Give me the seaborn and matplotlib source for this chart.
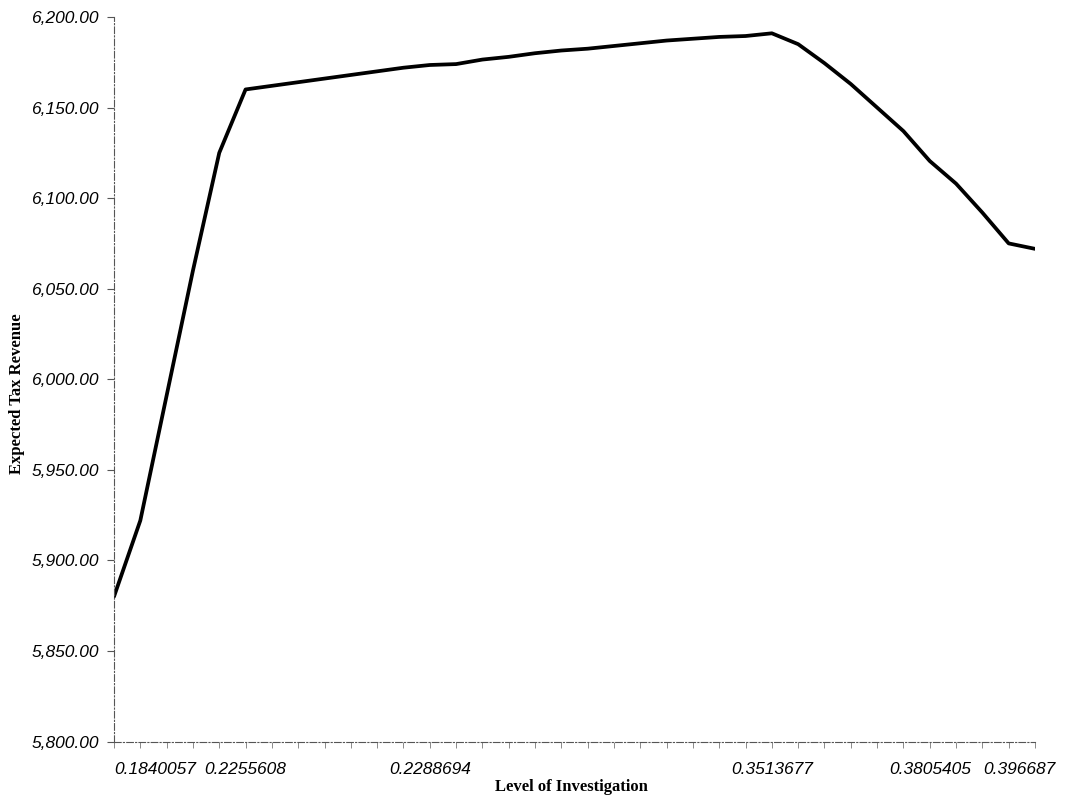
import numpy as np
import pandas as pd
import matplotlib
matplotlib.use('Agg')
import matplotlib.pyplot as plt
import matplotlib.transforms as mtransforms
import seaborn as sns
from matplotlib.ticker import FuncFormatter

# expected tax revenue at each level of investigation (36 categories)
revenue = [5880, 5922, 5991, 6060, 6125, 6160, 6162, 6164, 6166, 6168,
           6170, 6172, 6173.5, 6174, 6176.5, 6178, 6180, 6181.5, 6182.5, 6184,
           6185.5, 6187, 6188, 6189, 6189.5, 6191, 6185, 6174.5, 6163, 6150,
           6137, 6120.5, 6108, 6092, 6075, 6072]
label_idx = [0, 5, 12, 25, 31, 35]
level_labels = ['0.1840057', '0.2255608', '0.2288694', '0.3513677', '0.3805405', '0.396687']
y_ticks = [5800, 5850, 5900, 5950, 6000, 6050, 6100, 6150, 6200]

df = pd.DataFrame({'cat': np.arange(len(revenue)), 'revenue': revenue})

sns.set_style('white')
plt.rcParams['font.family'] = ['Liberation Sans', 'DejaVu Sans']
plt.rcParams['text.color'] = 'black'
plt.rcParams['xtick.color'] = 'black'
plt.rcParams['ytick.color'] = 'black'
plt.rcParams['axes.labelcolor'] = 'black'

fig = plt.figure(figsize=(10.81, 7.96), dpi=100)
ax = fig.add_axes([114 / 1081, 1 - 741.5 / 796, (1035 - 114) / 1081, (741.5 - 17) / 796])

sns.lineplot(data=df, x='cat', y='revenue', color='black', linewidth=2.7, ax=ax)

ax.set_xlim(0, len(revenue) - 1)
ax.set_ylim(5800, 6200)

# spines look like a faint dash-dot scanned line
for side in ['top', 'right']:
    ax.spines[side].set_visible(False)
for side in ['left', 'bottom']:
    ax.spines[side].set_linestyle((0, (6, 2, 1, 2)))
    ax.spines[side].set_linewidth(0.8)
    ax.spines[side].set_color('#555555')

ax.set_yticks(y_ticks)
ax.yaxis.set_major_formatter(FuncFormatter(lambda v, p: f'{v:,.2f}'))
ax.tick_params(axis='y', length=5, width=0.8, color='#555555', pad=6,
               labelsize=12.5, left=True)
for t in ax.get_yticklabels():
    t.set_fontstyle('italic')

ax.set_xticks(label_idx)
ax.set_xticklabels(level_labels, fontsize=12.5, fontstyle='italic')
ax.set_xticks(np.arange(len(revenue)), minor=True)
ax.tick_params(axis='x', which='both', length=4, width=0.6, color='#777777',
               pad=11, bottom=True)
xl = ax.get_xticklabels()
xl[0].set_horizontalalignment('left')
# last label sits a little left of its category, as in the original
xl[-1].set_transform(xl[-1].get_transform() +
                     mtransforms.ScaledTranslation(-0.16, 0, fig.dpi_scale_trans))

ax.set_xlabel('Level of Investigation', family='Liberation Serif', fontsize=12,
              fontweight='bold')
ax.xaxis.set_label_coords(0.497, -0.052)
ax.set_ylabel('Expected Tax Revenue', family='Liberation Serif', fontsize=12,
              fontweight='bold')
ax.yaxis.set_label_coords(-0.097, 0.48)

fig.savefig('out.png', dpi=100)
